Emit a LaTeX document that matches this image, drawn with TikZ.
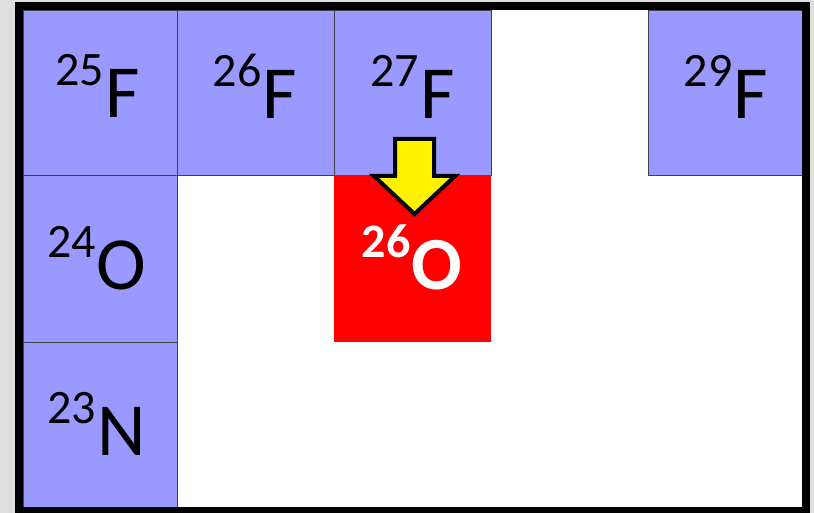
\documentclass[tikz,border=0pt]{standalone}
\usepackage{fontspec}
\setmainfont{Carlito}
\definecolor{cellblue}{HTML}{9999FF}
\definecolor{bggray}{HTML}{DEDEDE}
\definecolor{celledge}{HTML}{404050}
\newcommand\isosup[1]{\raisebox{32pt}{\fontsize{48}{48}\selectfont #1}\kern1pt}
\tikzset{
  cell/.style={fill=cellblue, draw=celledge, line width=0.9pt},
  hotcell/.style={fill=red},
  label/.style={anchor=base, inner sep=0pt, font=\fontsize{75}{75}\selectfont},
  hotlabel/.style={anchor=base, inner sep=0pt, text=white, font=\fontsize{75}{75}\selectfont\bfseries},
  arrowshape/.style={fill=yellow, draw=black, line width=4pt, line join=miter}
}
\begin{document}
\begin{tikzpicture}[x=1pt,y=-1pt]
\useasboundingbox (0,0) rectangle (814,513);
\clip (0,0) rectangle (814,513);
\fill[bggray] (0,0) rectangle (814,513);
\fill[white] (19,6.5) rectangle (806,511);
% cells
\draw[cell] (23,10) rectangle (177.5,175);
\draw[cell] (177.5,10) rectangle (334,175);
\draw[cell] (334,10) rectangle (491,175);
\draw[cell] (648,10) rectangle (802,175);
\draw[cell] (23,175) rectangle (177.5,342);
\draw[cell] (23,342) rectangle (177.5,507);
\fill[hotcell] (334,175) rectangle (491,342);
% labels
\node[label] (f25) at (97.5,118) {\isosup{25}F};
\node[label] (f26) at (255,119) {\isosup{26}F};
\node[label] (f27) at (412.5,119) {\isosup{27}F};
\node[label] (f29) at (726,119) {\isosup{29}F};
\node[label] (o24) at (97,289) {\isosup{24}O};
\node[label] (n23) at (96.5,455) {\isosup{23}N};
\node[hotlabel] (o26) at (412,289) {\isosup{26}O};
% arrow
\draw[arrowshape] (395,139) -- (434,139) -- (434,176) -- (455,176) -- (414.5,214) -- (374,176) -- (395,176) -- cycle;
% frame
\draw[line width=8pt] (19,6.5) rectangle (806,511);
\end{tikzpicture}
\end{document}
